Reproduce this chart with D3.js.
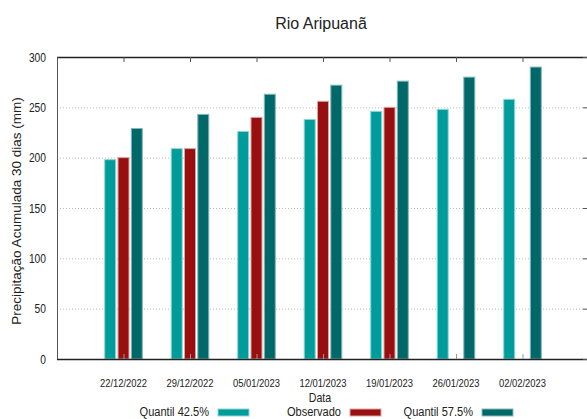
<!DOCTYPE html>
<html lang="pt">
<head>
    <meta charset="UTF-8">
    <title>Rio Aripuanã</title>
    <script src="https://d3js.org/d3.v7.min.js"></script>
    <style>
        body { margin: 0; background: #fff; }
        .narrow { font-family: 'Liberation Sans', Arial, sans-serif; fill: #222; }
        .regular { font-family: 'Liberation Sans', Arial, sans-serif; fill: #222; }
    </style>
</head>
<body>
    <div id="chart"></div>
    <script>
        const width = 587;
        const height = 419;

        // data
        const dates = ["22/12/2022", "29/12/2022", "05/01/2023", "12/01/2023", "19/01/2023", "26/01/2023", "02/02/2023"];
        const quantil425 = [198, 209, 226, 238, 246, 248, 258];
        const observado = [200, 209, 240, 256, 250, null, null];
        const quantil575 = [229, 243, 263, 272, 276, 280, 290];
        const yTicks = [0, 50, 100, 150, 200, 250, 300];

        const series = [
            { name: "Quantil 42.5%", values: quantil425, color: "#009b9b", edge: "#8fd6d6", off: -1 },
            { name: "Observado", values: observado, color: "#990e0e", edge: "#dba3a3", off: 0 },
            { name: "Quantil 57.5%", values: quantil575, color: "#006868", edge: "#86b8b8", off: 1 }
        ];

        const pLeft = 57, pRight = 589, pTop = 57, pBottom = 359;
        const squeeze = 0.82; // the original font is a condensed one

        const x = d3.scalePoint().domain(dates).range([pLeft, pRight]).padding(1);
        const y = d3.scaleLinear().domain([0, 300]).range([pBottom, pTop]);
        const barW = 11;
        const gap = 13.3;

        const svg = d3.select("#chart").append("svg")
            .attr("width", width).attr("height", height);

        function narrowAt(sel, fx, fy) {
            return sel.attr("class", "narrow")
                .attr("transform", (d, i) => `translate(${fx(d, i)},${fy(d, i)}) scale(${squeeze},1)`);
        }

        // grid
        svg.append("g").selectAll("line")
            .data(yTicks.filter(t => t > 0 && t < 300))
            .enter().append("line")
            .attr("x1", pLeft).attr("x2", pRight)
            .attr("y1", d => y(d) + 0.5).attr("y2", d => y(d) + 0.5)
            .attr("stroke", "#bbb").attr("stroke-width", 1)
            .attr("stroke-dasharray", "1,2");

        // bars
        series.forEach(s => {
            svg.append("g").selectAll("rect")
                .data(s.values.map((v, i) => ({ v: v, d: dates[i] })).filter(p => p.v != null))
                .enter().append("rect")
                .attr("x", p => x(p.d) + s.off * gap - barW / 2)
                .attr("y", p => y(p.v))
                .attr("width", barW)
                .attr("height", p => y(0) - y(p.v))
                .attr("fill", s.color)
                .attr("stroke", s.edge)
                .attr("stroke-width", 1);
        });

        // frame
        svg.append("line").attr("x1", pLeft).attr("x2", pRight).attr("y1", pTop + 0.5).attr("y2", pTop + 0.5)
            .attr("stroke", "#222").attr("stroke-width", 1.5);
        svg.append("line").attr("x1", pLeft).attr("x2", pRight).attr("y1", pBottom + 0.5).attr("y2", pBottom + 0.5)
            .attr("stroke", "#222").attr("stroke-width", 1.5);
        svg.append("line").attr("x1", pLeft + 0.5).attr("x2", pLeft + 0.5).attr("y1", pTop).attr("y2", pBottom)
            .attr("stroke", "#555").attr("stroke-width", 1);

        // x ticks (top and bottom, inward)
        svg.append("g").selectAll("line").data(dates).enter().append("line")
            .attr("x1", d => x(d) + 0.5).attr("x2", d => x(d) + 0.5)
            .attr("y1", pTop).attr("y2", pTop + 5)
            .attr("stroke", "#555");
        svg.append("g").selectAll("line").data(dates).enter().append("line")
            .attr("x1", d => x(d) + 0.5).attr("x2", d => x(d) + 0.5)
            .attr("y1", pBottom).attr("y2", pBottom - 5)
            .attr("stroke", "#999");

        // y ticks right side
        svg.append("g").selectAll("line").data(yTicks).enter().append("line")
            .attr("x1", pRight - 6).attr("x2", pRight)
            .attr("y1", d => y(d) + 0.5).attr("y2", d => y(d) + 0.5)
            .attr("stroke", "#555");

        // tick labels
        narrowAt(svg.append("g").selectAll("text").data(yTicks).enter().append("text"),
            () => 46, d => y(d) + 4.5)
            .attr("text-anchor", "end")
            .style("font-size", "12.5px")
            .text(d => d);

        narrowAt(svg.append("g").selectAll("text").data(dates).enter().append("text"),
            d => x(d), () => 387)
            .attr("text-anchor", "middle")
            .style("font-size", "11.5px")
            .text(d => d);

        // titles
        svg.append("text").attr("class", "regular")
            .attr("x", 321).attr("y", 28.5)
            .attr("text-anchor", "middle")
            .style("font-size", "16px")
            .text("Rio Aripuanã");

        narrowAt(svg.append("text").datum("Data"), () => 320, () => 402)
            .attr("text-anchor", "middle")
            .style("font-size", "13px")
            .text(d => d);

        svg.append("text").attr("class", "regular")
            .attr("transform", "translate(21,211) rotate(-90)")
            .attr("text-anchor", "middle")
            .style("font-size", "13.5px")
            .text("Precipitação Acumulada 30 dias (mm)");

        // legend
        const legendX = [209, 341, 473];
        series.forEach((s, i) => {
            narrowAt(svg.append("text").datum(s.name), () => legendX[i], () => 416)
                .attr("text-anchor", "end")
                .style("font-size", "13.5px")
                .text(d => d);
            svg.append("rect")
                .attr("x", legendX[i] + 9).attr("y", 409)
                .attr("width", 31).attr("height", 7)
                .attr("fill", s.color)
                .attr("stroke", s.edge).attr("stroke-width", 1);
        });
    </script>
</body>
</html>
